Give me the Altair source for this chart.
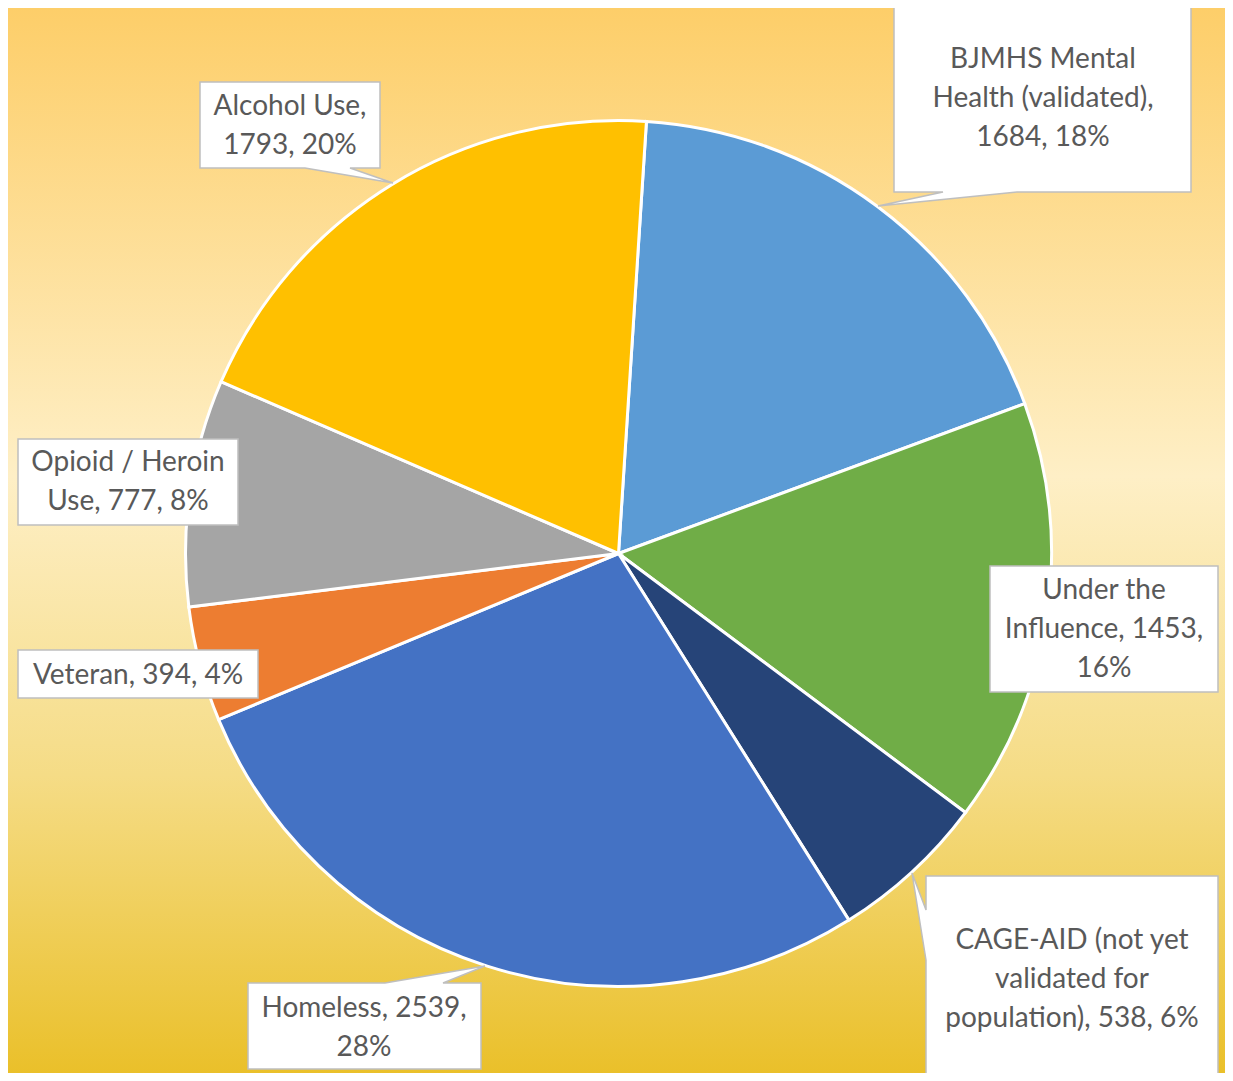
import math
import altair as alt
import pandas as pd

# ---- data ----
categories = [
    "BJMHS Mental Health (validated)",
    "Under the Influence",
    "CAGE-AID (not yet validated for population)",
    "Homeless",
    "Veteran",
    "Opioid / Heroin Use",
    "Alcohol Use",
]
counts = [1684, 1453, 538, 2539, 394, 777, 1793]
slice_colors = ["#5B9BD5", "#70AD47", "#264478", "#4472C4", "#ED7D31", "#A5A5A5", "#FFC000"]
label_templates = [
    "BJMHS Mental\nHealth (validated),\n{v}, {p}%",
    "Under the\nInfluence, {v},\n{p}%",
    "CAGE-AID (not yet\nvalidated for\npopulation), {v}, {p}%",
    "Homeless, {v},\n{p}%",
    "Veteran, {v}, {p}%",
    "Opioid / Heroin\nUse, {v}, {p}%",
    "Alcohol Use,\n{v}, {p}%",
]

total = sum(counts)
pcts = [round(100 * c / total) for c in counts]
labels = [t.format(v=c, p=p) for t, c, p in zip(label_templates, counts, pcts)]

# ---- layout (page coordinates, chart starts 8px in) ----
OFF = 8
W, H = 1217, 1065
CX, CY, R = 618.5 - OFF, 553.5 - OFF, 433
START = math.radians(3.7)

# callout box top-left corner + outline path relative to it (box + pointer wedge)
callout_left = [894, 990, 926, 248, 18, 18, 200]
callout_top = [6, 566, 876, 983, 650, 439, 82]
callout_paths = [
    "M0,0H297V186H123L-16,200L49,186H0Z",
    "M0,0H228V126H0Z",
    "M0,0H292V220H0V84L-14,-3L0,34Z",
    "M0,0H137L237,-17L195,0H233V86H0Z",
    "M0,0H240V48H0Z",
    "M0,0H220V86H0Z",
    "M0,0H180V86H150L193,101L105,86H0Z",
]
# centre of the first text line of each callout
text_x = [1043, 1104, 1072, 364, 138, 128, 290]
text_y = [60, 591, 941, 1009, 676, 463, 107]

df = pd.DataFrame({
    "category": categories,
    "count": counts,
    "idx": list(range(len(categories))),
    "label": labels,
    "bx": [x - OFF for x in callout_left],
    "by": [y - OFF for y in callout_top],
    "path": callout_paths,
    "tx": [x - OFF for x in text_x],
    "ty": [y - OFF for y in text_y],
})

grad = alt.LinearGradient(
    gradient="linear",
    stops=[
        alt.GradientStop(color="#FDCE69", offset=0),
        alt.GradientStop(color="#FEEFC6", offset=0.44),
        alt.GradientStop(color="#F5DC86", offset=0.72),
        alt.GradientStop(color="#EAC02A", offset=1),
    ],
    x1=0, x2=0, y1=0, y2=1,
)

bg = alt.Chart(pd.DataFrame({"a": [0]})).mark_rect(color=grad).encode(
    x=alt.value(0), x2=alt.value(W), y=alt.value(0), y2=alt.value(H)
)

pie = alt.Chart(df).mark_arc(radius=R, stroke="white", strokeWidth=3).encode(
    theta=alt.Theta("count:Q", stack=True, scale=alt.Scale(range=[START, START + 2 * math.pi])),
    color=alt.Color("category:N", scale=alt.Scale(domain=categories, range=slice_colors), legend=None),
    order=alt.Order("idx:Q"),
    x=alt.value(CX),
    y=alt.value(CY),
)

boxes = alt.Chart(df).mark_point(
    filled=True, fill="white", stroke="#BFBFBF", strokeWidth=1.5, opacity=1, size=4
).encode(
    x=alt.X("bx:Q", scale=None, axis=None),
    y=alt.Y("by:Q", scale=None, axis=None),
    shape=alt.Shape("path:N", scale=None, legend=None),
)

texts = alt.Chart(df).mark_text(
    font="Lato", fontSize=28, color="#595959", lineBreak="\n", lineHeight=39,
    align="center", baseline="middle",
).encode(
    x=alt.X("tx:Q", scale=None, axis=None),
    y=alt.Y("ty:Q", scale=None, axis=None),
    text="label:N",
)

chart = alt.layer(bg, pie, boxes, texts).properties(
    width=W, height=H, autosize=alt.AutoSizeParams(type="none"), padding=0
).configure_view(stroke=None)

chart.save("out.html", embed_options={"renderer": "svg", "actions": False})
